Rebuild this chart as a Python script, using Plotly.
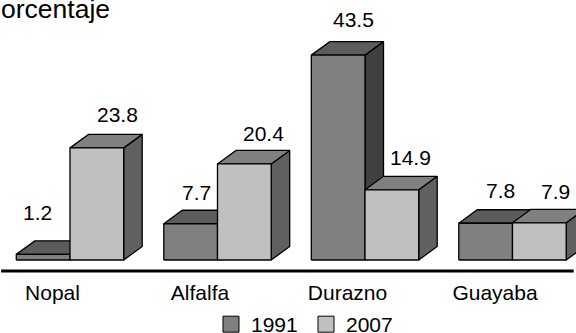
import plotly.graph_objects as go

categories = ["Nopal", "Alfalfa", "Durazno", "Guayaba"]
series_1991 = [1.2, 7.7, 43.5, 7.8]
series_2007 = [23.8, 20.4, 14.9, 7.9]
title_text = "orcentaje"

# scale helpers (pixels per unit of the two axes)
PX_X = 147.5
PX_Y = 4.71
BW = 53.7 / PX_X
DX = 18.5 / PX_X
DY = 13.5 / PX_Y
FONT = "Liberation Sans, Arial, sans-serif"
SIZE = 21
LINE = dict(color="#000000", width=1.3)

# label nudges in pixels (x, y) relative to the top-back of each bar
off_1991 = [(-24, 28), (-13, 18), (-3, 22), (-4, 19)]
off_2007 = [(2, 20), (1, 17), (0, 19), (-2, 18)]

STYLE = {
    "1991": dict(front="#808080", top="#5c5c5c", side="#404040"),
    "2007": dict(front="#c0c0c0", top="#808080", side="#606060"),
}


def faces(vals, start):
    fx, fy, tx, ty, sx, sy = [], [], [], [], [], []
    for i, v in enumerate(vals):
        x0 = i + start
        x1 = x0 + BW
        fx += [x0, x1, x1, x0, x0, None]
        fy += [0, 0, v, v, 0, None]
        tx += [x0, x1, x1 + DX, x0 + DX, x0, None]
        ty += [v, v, v + DY, v + DY, v, None]
        sx += [x1, x1 + DX, x1 + DX, x1, x1, None]
        sy += [0, DY, v + DY, v, 0, None]
    return (sx, sy), (tx, ty), (fx, fy)


fig = go.Figure()
for name, vals, start in (("1991", series_1991, -BW), ("2007", series_2007, 0)):
    side, top, front = faces(vals, start)
    st = STYLE[name]
    for (xs, ys), col in ((side, st["side"]), (top, st["top"]), (front, st["front"])):
        fig.add_trace(go.Scatter(x=xs, y=ys, mode="lines", fill="toself", fillcolor=col,
                                 line=LINE, showlegend=False, hoverinfo="skip"))
    fig.add_trace(go.Scatter(x=[None], y=[None], mode="markers", name=name,
                             marker=dict(symbol="square", size=16, color=st["front"],
                                         line=dict(color="#000000", width=1))))

annotations = []
for vals, start, offs in ((series_1991, -BW, off_1991), (series_2007, 0, off_2007)):
    for i, v in enumerate(vals):
        annotations.append(dict(x=i + start + BW / 2 + DX, y=v + DY, text=f"{v:.1f}",
                                showarrow=False, xshift=offs[i][0], yshift=offs[i][1],
                                yanchor="middle", xanchor="center",
                                font=dict(family=FONT, size=SIZE, color="#000000")))
annotations.append(dict(xref="paper", yref="paper", x=0, y=1, xanchor="left", yanchor="top",
                        text=title_text, showarrow=False, xshift=-1, yshift=8,
                        font=dict(family=FONT, size=26.5, color="#000000")))

fig.update_layout(
    width=576, height=350, margin=dict(l=0, r=0, t=0, b=17),
    paper_bgcolor="white", plot_bgcolor="white",
    font=dict(family=FONT, size=SIZE, color="#000000"),
    annotations=annotations,
    shapes=[dict(type="line", xref="x domain", yref="y", x0=0.002, x1=0.996,
                 y0=-2.335, y1=-2.335, line=dict(color="#000000", width=3))],
    legend=dict(orientation="h", x=0.3663, y=0.087, xanchor="left", yanchor="top",
                entrywidth=50, entrywidthmode="pixels", itemwidth=30,
                font=dict(family=FONT, size=SIZE), bgcolor="rgba(0,0,0,0)",
                itemsizing="trace"),
    showlegend=True,
    xaxis=dict(range=[-70 / PX_X, 506 / PX_X], showgrid=False, zeroline=False, showline=False,
               anchor="free", position=(333 - 272) / 333,
               tickmode="array", tickvals=[i - 17.5 / PX_X for i in range(len(categories))],
               ticktext=categories, ticks="outside", ticklen=2, tickcolor="rgba(0,0,0,0)"),
    yaxis=dict(range=[(260 - 333) / PX_Y, 260 / PX_Y], showgrid=False, zeroline=False,
               showline=False, showticklabels=False, ticks=""),
)

fig.write_html("out.html", config=dict(displayModeBar=False),
               post_script="document.documentElement.style.overflow='hidden';document.body.style.overflow='hidden';document.body.style.margin='0';")
